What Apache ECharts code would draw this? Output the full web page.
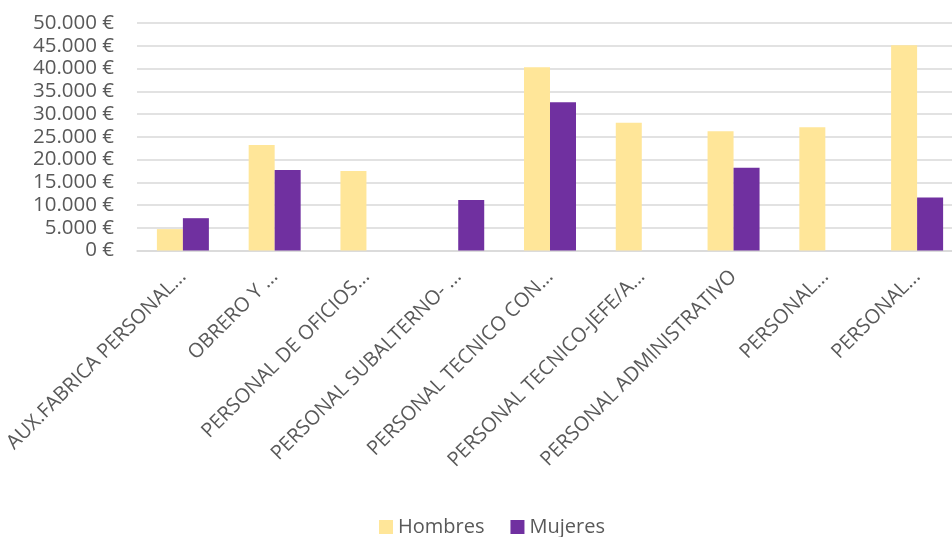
<!DOCTYPE html>
<html>
<head>
<meta charset="utf-8">
<script src="https://cdn.jsdelivr.net/npm/echarts@6/dist/echarts.min.js"></script>
<style>
  html, body { margin: 0; padding: 0; background: #fff; overflow: hidden; }
  #main { width: 963px; height: 537px; }
</style>
</head>
<body>
<div id="main"></div>
<script>
var categories = [
    'AUX.FABRICA PERSONAL...',
    'OBRERO Y ...',
    'PERSONAL DE OFICIOS...',
    'PERSONAL SUBALTERNO- ...',
    'PERSONAL TECNICO CON...',
    'PERSONAL TECNICO-JEFE/A...',
    'PERSONAL ADMINISTRATIVO',
    'PERSONAL...',
    'PERSONAL...'
];
var hombres = [4700, 23200, 17500, null, 40300, 28100, 26200, 27100, 45100];
var mujeres = [7100, 17700, null, 11100, 32600, null, 18200, null, 11650];

// div is a bit wider than the window so the last category runs past the edge like the original
var chart = echarts.init(document.getElementById('main'));
var font = '"Open Sans", sans-serif';

chart.setOption({
    animation: false,
    textStyle: { fontFamily: font },
    legend: {
        data: ['Hombres', 'Mujeres'],
        bottom: -5,
        left: 374,
        itemWidth: 14,
        itemHeight: 14,
        itemGap: 26,
        icon: 'rect',
        textStyle: { color: '#595959', fontSize: 20, fontFamily: font }
    },
    grid: {
        left: 137,
        top: 23,
        right: 0,
        height: 227.5
    },
    xAxis: {
        type: 'category',
        data: categories,
        axisLine: { lineStyle: { color: '#D9D9D9', width: 1.5 } },
        axisTick: { show: false },
        axisLabel: {
            rotate: 45,
            interval: 0,
            color: '#595959',
            fontSize: 20,
            fontFamily: font,
            margin: 23
        }
    },
    yAxis: {
        type: 'value',
        min: 0,
        max: 50000,
        interval: 5000,
        axisLine: { show: false },
        axisTick: { show: false },
        splitLine: { lineStyle: { color: '#D9D9D9', width: 1.5 } },
        axisLabel: {
            color: '#595959',
            fontSize: 20.5,
            fontFamily: font,
            margin: 23,
            formatter: function (v) {
                return String(v).replace(/\B(?=(\d{3})+(?!\d))/g, '.') + ' €';
            }
        }
    },
    series: [{
        name: 'Hombres',
        type: 'bar',
        data: hombres,
        barWidth: 26,
        barGap: '0%',
        itemStyle: { color: '#FFE699' }
    }, {
        name: 'Mujeres',
        type: 'bar',
        data: mujeres,
        barWidth: 26,
        barGap: '0%',
        itemStyle: { color: '#7030A0' }
    }]
});
</script>
</body>
</html>
